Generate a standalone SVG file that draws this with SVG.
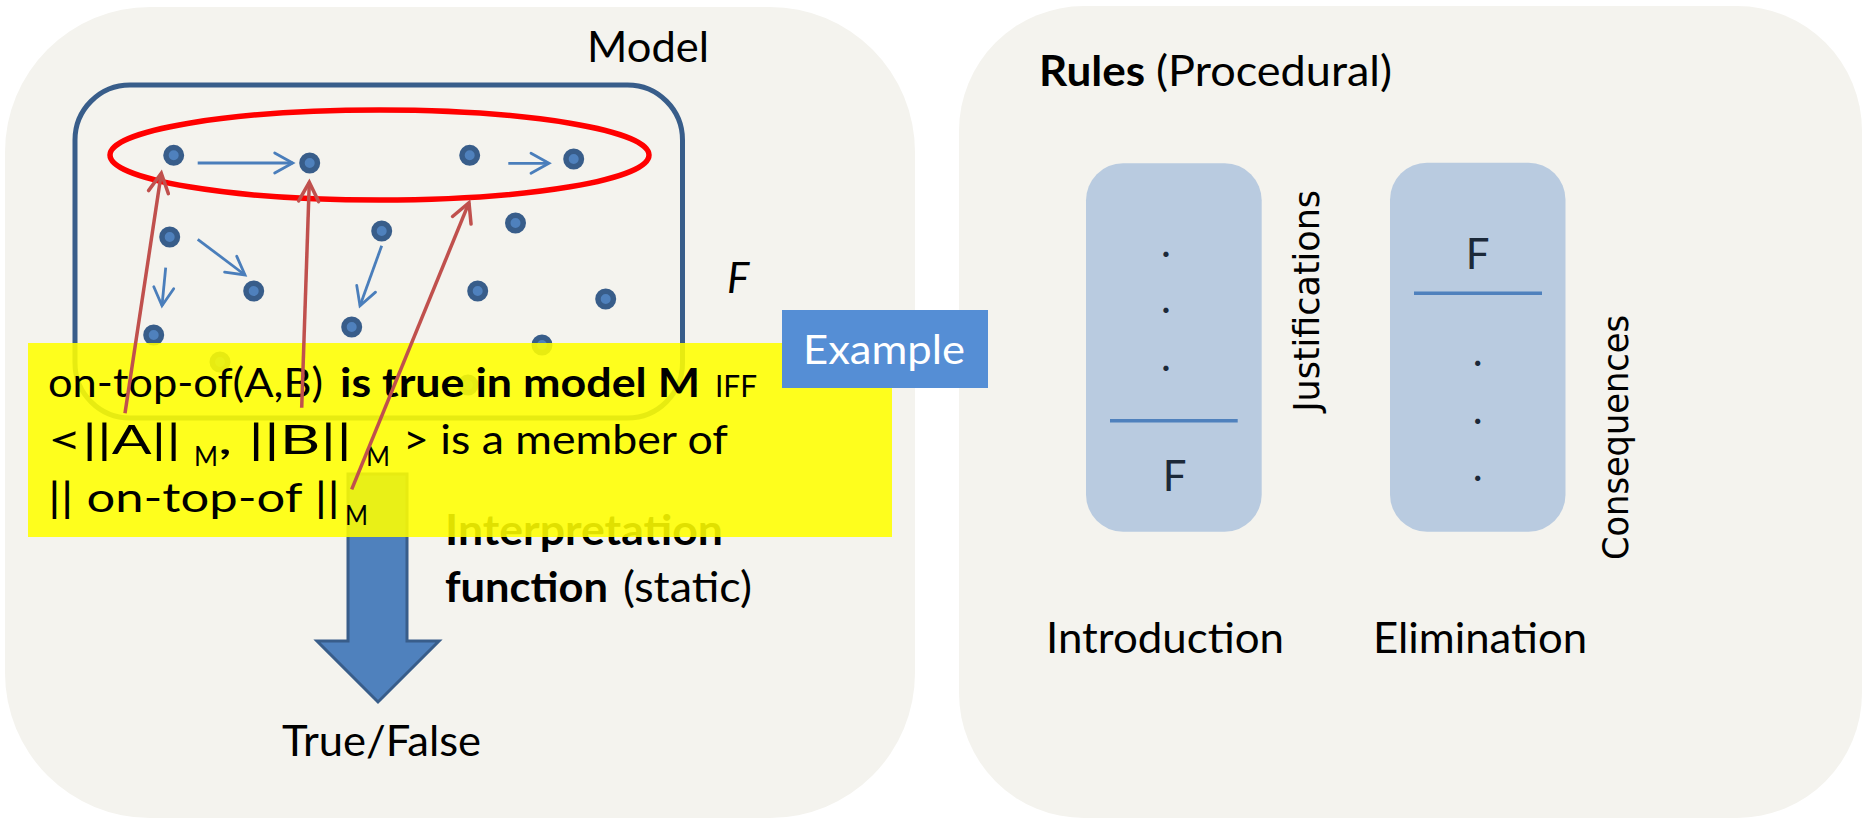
<svg xmlns="http://www.w3.org/2000/svg" width="1864" height="820" viewBox="0 0 1864 820">
  <style>
    .panel { fill: #f4f3ee; }
    .t { font-family: Lato, "Open Sans", "Liberation Sans", sans-serif; fill: #000; }
    .b { font-weight: bold; }
    .vert { font-family: "DejaVu Sans", Verdana, sans-serif; font-size: 35px; fill: #000; }
    .dot { fill: #4f81bd; stroke: #385d8a; stroke-width: 5.5; }
    .rel { fill: none; stroke: #4a7ebb; stroke-width: 2.8; marker-end: url(#headBlue); }
    .map { fill: none; stroke: #c0504d; stroke-width: 3.5; marker-end: url(#headRed); }
    .rulebox { fill: #b9cbe0; }
    .ruleline { stroke: #4f81bd; stroke-width: 3.5; }
    .ruletext { font-family: Lato, "Open Sans", sans-serif; font-size: 42px; fill: #1c2939; text-anchor: middle; }
  </style>
  <defs>
    <marker id="headBlue" markerUnits="userSpaceOnUse" viewBox="-24 -14 28 28" markerWidth="28" markerHeight="28" refX="0" refY="0" orient="auto">
      <path d="M-18,-10 L0,0 L-18,10" fill="none" stroke="#4a7ebb" stroke-width="2.8" stroke-linecap="round"/>
    </marker>
    <marker id="headRed" markerUnits="userSpaceOnUse" viewBox="-24 -14 28 28" markerWidth="28" markerHeight="28" refX="0" refY="0" orient="auto">
      <path d="M-19,-10 L0,0 L-19,10" fill="none" stroke="#c0504d" stroke-width="3.5" stroke-linecap="round"/>
    </marker>
  </defs>

  <rect width="1864" height="820" fill="#ffffff"/>

  <!-- left panel: semantics -->
  <g id="semantics-panel">
    <rect class="panel" x="5" y="7" width="910" height="811" rx="145" ry="145"/>
    <text class="t" x="587" y="62" font-size="43" textLength="122" lengthAdjust="spacingAndGlyphs">Model</text>
    <text class="t" x="727" y="292.7" font-size="42" font-style="italic">F</text>
  </g>

  <!-- the model: domain with objects and relations -->
  <g id="model">
    <rect x="75" y="85" width="607.5" height="333" rx="55" ry="55" fill="none" stroke="#385d8a" stroke-width="5"/>
    <circle class="dot" cx="173.7" cy="155.3" r="7.75"/>
    <circle class="dot" cx="309.7" cy="163" r="7.75"/>
    <circle class="dot" cx="469.7" cy="155.3" r="7.75"/>
    <circle class="dot" cx="573.7" cy="159" r="7.75"/>
    <circle class="dot" cx="169.7" cy="237" r="7.75"/>
    <circle class="dot" cx="253.7" cy="291" r="7.75"/>
    <circle class="dot" cx="153.7" cy="335" r="7.75"/>
    <circle class="dot" cx="381.7" cy="231" r="7.75"/>
    <circle class="dot" cx="351.7" cy="327" r="7.75"/>
    <circle class="dot" cx="477.7" cy="291" r="7.75"/>
    <circle class="dot" cx="515.5" cy="223" r="7.75"/>
    <circle class="dot" cx="605.7" cy="299" r="7.75"/>
    <circle class="dot" cx="542" cy="345" r="7.75"/>
    <circle class="dot" cx="220" cy="362" r="7.75"/>
    <circle class="dot" cx="468" cy="385" r="7.75"/>
  </g>

  <!-- relations between objects -->
  <g id="relations">
    <line class="rel" x1="197.7" y1="163" x2="292.7" y2="163"/>
    <line class="rel" x1="508.3" y1="163.3" x2="549" y2="163.3"/>
    <line class="rel" x1="197.7" y1="239.3" x2="245" y2="275"/>
    <line class="rel" x1="165.7" y1="267.7" x2="162" y2="305.7"/>
    <line class="rel" x1="381.7" y1="245.7" x2="360" y2="305.7"/>
  </g>

  <!-- extension of the predicate -->
  <ellipse id="extension" cx="379.5" cy="155" rx="269.5" ry="45" fill="none" stroke="#ff0000" stroke-width="5.5"/>

  <!-- interpretation function arrow -->
  <g id="interpretation">
    <polygon points="348,474 407,474 407,641 439,641 378,702 317,641 348,641" fill="#4f81bd" stroke="#385d8a" stroke-width="3"/>
    <text class="t b" x="445" y="545" font-size="42" textLength="278" lengthAdjust="spacingAndGlyphs">Interpretation</text>
    <text class="t b" x="445" y="602.3" font-size="42" textLength="163" lengthAdjust="spacingAndGlyphs">function</text>
    <text class="t" x="623" y="602.3" font-size="42" textLength="129" lengthAdjust="spacingAndGlyphs">(static)</text>
  </g>

  <g id="truth-value">
    <text class="t" x="282" y="756" font-size="42" textLength="199" lengthAdjust="spacingAndGlyphs">True/False</text>
  </g>

  <!-- truth condition note -->
  <g id="truth-condition">
    <rect x="28" y="343" width="864" height="194" fill="#ffff00" fill-opacity="0.88"/>
    <text class="t" x="48" y="396.7" font-size="40" textLength="275" lengthAdjust="spacingAndGlyphs">on-top-of(A,B)</text>
    <text class="t b" x="340" y="396.7" font-size="40" textLength="360" lengthAdjust="spacingAndGlyphs">is true in model M</text>
    <text class="t" x="715" y="396.7" font-size="31" textLength="42" lengthAdjust="spacingAndGlyphs">IFF</text>
    <text class="t" x="48" y="454" font-size="40" textLength="133" lengthAdjust="spacingAndGlyphs">&lt;||A||</text>
    <text class="t" x="194" y="466" font-size="27" textLength="24" lengthAdjust="spacingAndGlyphs">M</text>
    <text class="t" x="218" y="454" font-size="40" textLength="134" lengthAdjust="spacingAndGlyphs">, ||B||</text>
    <text class="t" x="366" y="466" font-size="27" textLength="24" lengthAdjust="spacingAndGlyphs">M</text>
    <text class="t" x="403" y="454" font-size="40" textLength="325" lengthAdjust="spacingAndGlyphs">&gt; is a member of</text>
    <text class="t" x="48" y="511.7" font-size="40" textLength="292" lengthAdjust="spacingAndGlyphs">|| on-top-of ||</text>
    <text class="t" x="345" y="525" font-size="27" textLength="23" lengthAdjust="spacingAndGlyphs">M</text>
  </g>

  <!-- mappings from terms to the model -->
  <g id="mappings">
    <line class="map" x1="125" y1="413.3" x2="161.3" y2="173.3"/>
    <line class="map" x1="301.7" y1="407.7" x2="309.3" y2="182.3"/>
    <line class="map" x1="351.7" y1="489.3" x2="469" y2="202.7"/>
  </g>

  <!-- right panel: proof rules -->
  <g id="rules-panel">
    <rect class="panel" x="959" y="6" width="903" height="812" rx="125" ry="125"/>
    <text class="t b" x="1039" y="86" font-size="42" textLength="106" lengthAdjust="spacingAndGlyphs">Rules</text>
    <text class="t" x="1156" y="86" font-size="42" textLength="236" lengthAdjust="spacingAndGlyphs">(Procedural)</text>
  </g>

  <g id="introduction-rule">
    <rect class="rulebox" x="1086" y="163.3" width="175.7" height="368.4" rx="37" ry="37"/>
    <text class="ruletext" x="1166" y="256.5">.</text>
    <text class="ruletext" x="1166" y="313">.</text>
    <text class="ruletext" x="1166" y="371">.</text>
    <line class="ruleline" x1="1110" y1="420.7" x2="1237.7" y2="420.7"/>
    <text class="ruletext" x="1174.7" y="490.7">F</text>
    <text class="vert" transform="translate(1319,411.7) rotate(-90)" textLength="221.7" lengthAdjust="spacingAndGlyphs">Justifications</text>
    <text class="t" x="1046" y="653.3" font-size="42" textLength="238" lengthAdjust="spacingAndGlyphs">Introduction</text>
  </g>

  <g id="elimination-rule">
    <rect class="rulebox" x="1390" y="162.7" width="175.5" height="369" rx="37" ry="37"/>
    <text class="ruletext" x="1477.7" y="269.3">F</text>
    <line class="ruleline" x1="1414" y1="293.3" x2="1542" y2="293.3"/>
    <text class="ruletext" x="1477.7" y="366">.</text>
    <text class="ruletext" x="1477.7" y="424">.</text>
    <text class="ruletext" x="1477.7" y="481">.</text>
    <text class="vert" transform="translate(1627.5,560) rotate(-90)" textLength="245" lengthAdjust="spacingAndGlyphs">Consequences</text>
    <text class="t" x="1373" y="653.3" font-size="42" textLength="214" lengthAdjust="spacingAndGlyphs">Elimination</text>
  </g>

  <!-- example label -->
  <g id="example">
    <rect x="782" y="310" width="206" height="78" fill="#558ed5"/>
    <text class="t" x="803" y="364" font-size="41" fill="#ffffff" style="fill:#ffffff" textLength="162" lengthAdjust="spacingAndGlyphs">Example</text>
  </g>
</svg>
